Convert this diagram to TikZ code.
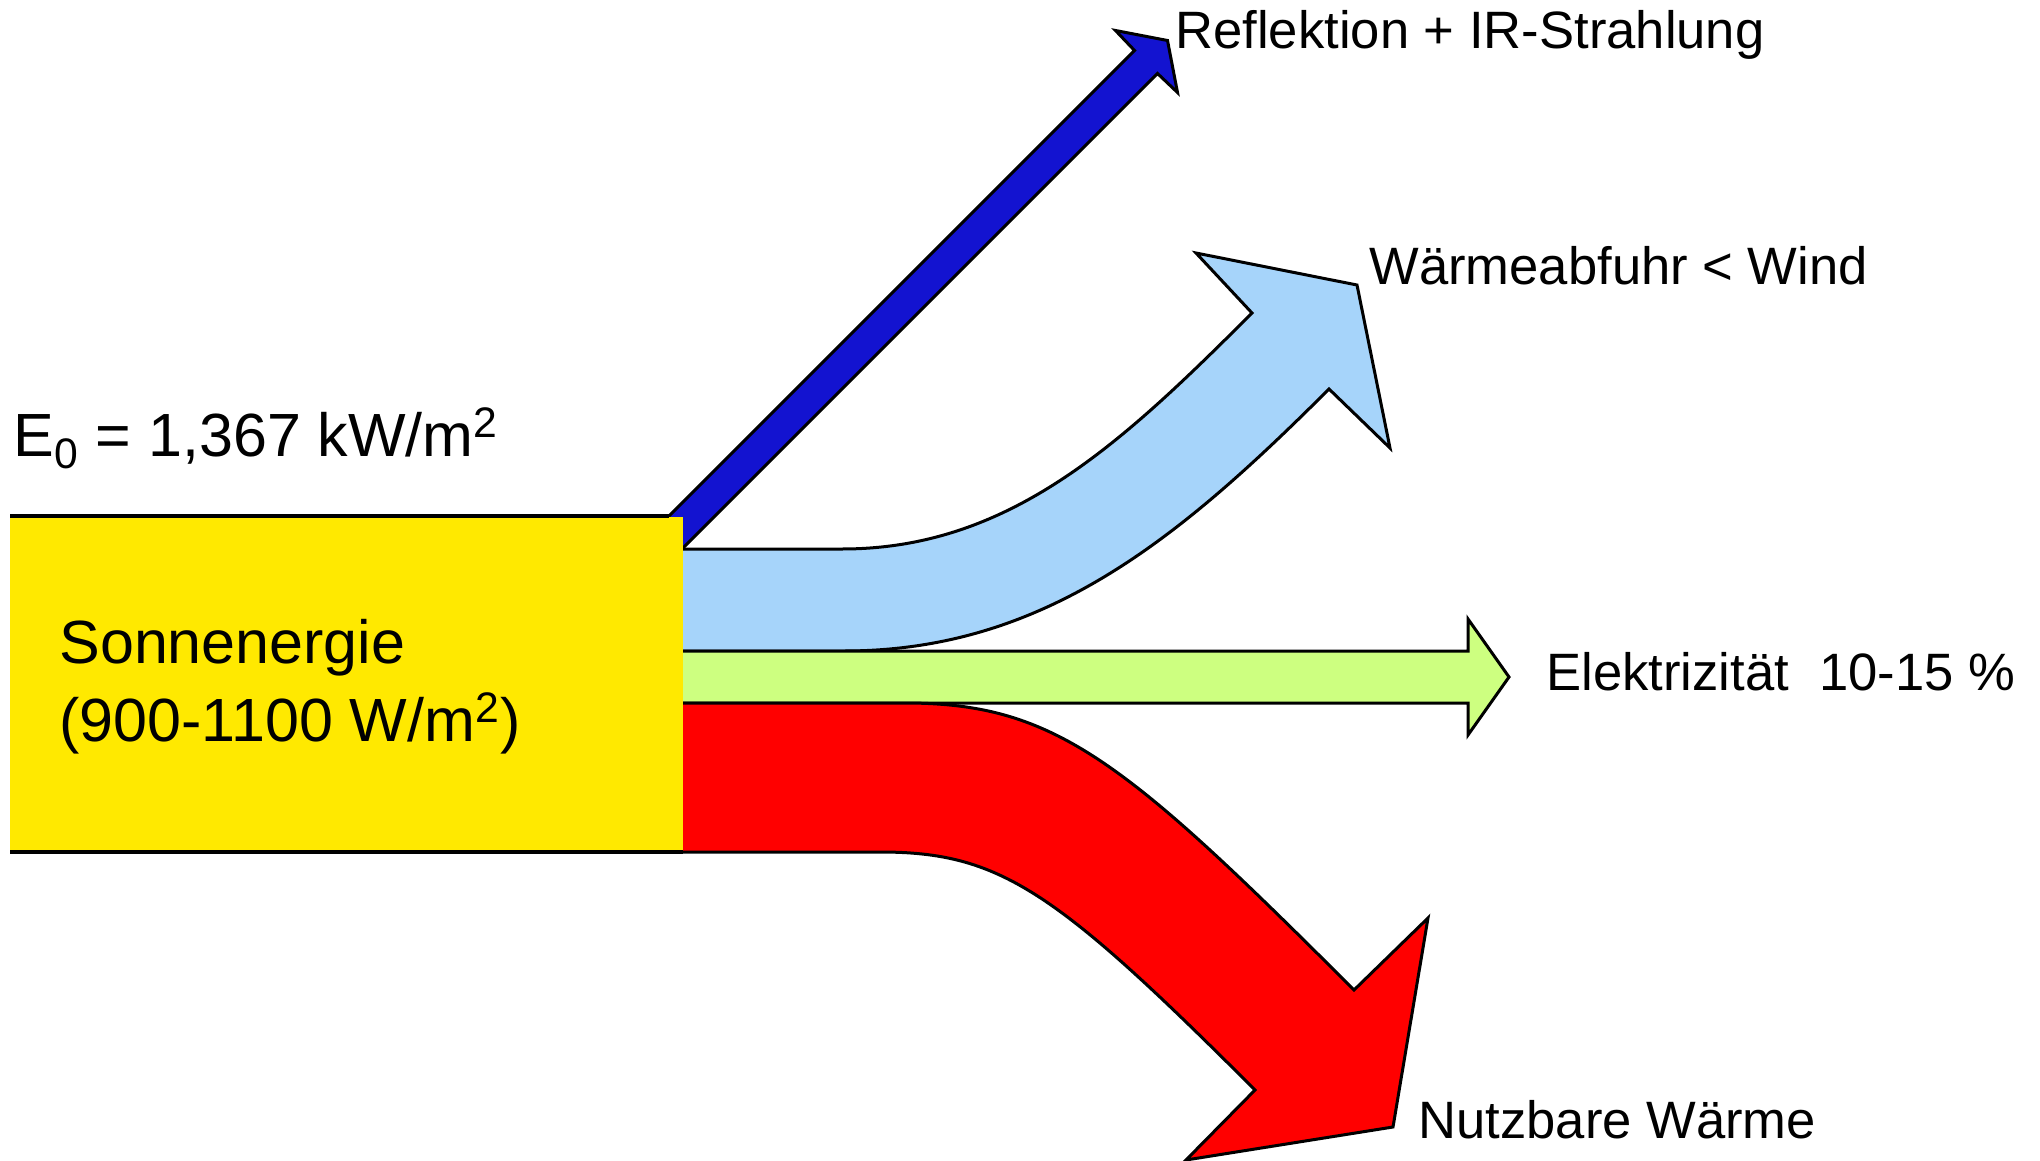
\documentclass[tikz,border=0pt]{standalone}
\usepackage{fontspec}
\setmainfont{Liberation Sans}
\usepackage{tikz}
\definecolor{sunyellow}{RGB}{255,233,0}
\definecolor{reflblue}{RGB}{19,19,208}
\definecolor{windblue}{RGB}{166,212,250}
\definecolor{elecgreen}{RGB}{205,255,128}
\definecolor{heatred}{RGB}{255,0,0}

\begin{document}
\begin{tikzpicture}[x=0.5pt,y=-0.5pt,
  flow arrow/.style={draw=black,line width=1.5pt,line join=miter,miter limit=10},
  edge line/.style={draw=black,line width=2pt},
  label node/.style={anchor=base west,inner sep=0pt,font=\fontsize{26.3}{31}\selectfont},
  big node/.style={anchor=base west,inner sep=0pt,font=\fontsize{30.5}{36}\selectfont}]
  \useasboundingbox (0,0) rectangle (2040,1161);

  \path[flow arrow,fill=windblue] (676,549) -- (842,549)
    .. controls (1010,549) and (1122,443) .. (1252,313)
    -- (1196,253) -- (1357,285) -- (1390,448) -- (1329,389)
    .. controls (1179,539) and (1044,651) .. (844,651) -- (676,651) -- cycle;
  \path[flow arrow,fill=elecgreen] (676,651) -- (1468,651) -- (1468,619)
    -- (1509,677) -- (1468,735) -- (1468,703) -- (676,703) -- cycle;
  \path[flow arrow,fill=heatred] (676,703) -- (905,703)
    .. controls (1055,703) and (1124,760) .. (1354,990)
    -- (1428,918) -- (1393,1127) -- (1186,1160) -- (1255,1090)
    .. controls (1055,890) and (1000,852) .. (880,852) -- (676,852) -- cycle;
  \path[flow arrow,fill=reflblue] (660,525) -- (1134.5,50.5) -- (1115.5,30.5)
    -- (1167.5,40.5) -- (1177.5,92.5) -- (1157.5,73.5) -- (676,555) -- cycle;

  \fill[sunyellow] (10,517) rectangle (683,852);
  \draw[edge line] (10,516) -- (669,516);
  \draw[edge line] (10,852) -- (683,852);

  \node[big node] (e0) at (13,456) {E\textsubscript{0} = 1,367 kW/m\textsuperscript{2}};
  \node[big node] (sonne) at (59,663) {Sonnenergie};
  \node[big node] (sonnewert) at (59,741) {(900-1100 W/m\textsuperscript{2})};

  \node[label node] (refl) at (1175,49) {Reflektion + IR-Strahlung};
  \node[label node] (wind) at (1369,284) {Wärmeabfuhr < Wind};
  \node[label node] (elek) at (1546,690) {Elektrizität};
  \node[label node] (anteil) at (1819,690) {10-15 \%};
  \node[label node] (nutz) at (1418,1138) {Nutzbare Wärme};
\end{tikzpicture}
\end{document}
